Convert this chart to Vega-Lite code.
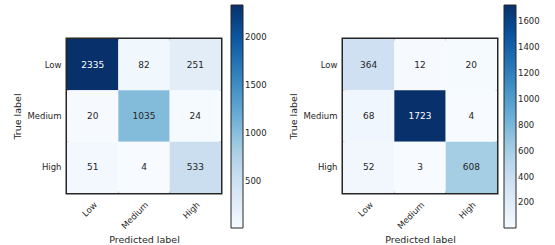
{
  "$schema": "https://vega.github.io/schema/vega-lite/v6.json",
  "padding": {"left": 10, "top": 3, "right": 5, "bottom": 4},
  "background": "white",
  "datasets": {
    "a": [
      {"true": "Low", "pred": "Low", "count": 2335},
      {"true": "Low", "pred": "Medium", "count": 82},
      {"true": "Low", "pred": "High", "count": 251},
      {"true": "Medium", "pred": "Low", "count": 20},
      {"true": "Medium", "pred": "Medium", "count": 1035},
      {"true": "Medium", "pred": "High", "count": 24},
      {"true": "High", "pred": "Low", "count": 51},
      {"true": "High", "pred": "Medium", "count": 4},
      {"true": "High", "pred": "High", "count": 533}
    ],
    "b": [
      {"true": "Low", "pred": "Low", "count": 364},
      {"true": "Low", "pred": "Medium", "count": 12},
      {"true": "Low", "pred": "High", "count": 20},
      {"true": "Medium", "pred": "Low", "count": 68},
      {"true": "Medium", "pred": "Medium", "count": 1723},
      {"true": "Medium", "pred": "High", "count": 4},
      {"true": "High", "pred": "Low", "count": 52},
      {"true": "High", "pred": "Medium", "count": 3},
      {"true": "High", "pred": "High", "count": 608}
    ]
  },
  "spacing": 17,
  "hconcat": [
    {
      "width": 154,
      "height": 154,
      "data": {"name": "a"},
      "encoding": {
        "x": {"field": "pred", "type": "nominal", "sort": ["Low", "Medium", "High"], "title": "Predicted label"},
        "y": {"field": "true", "type": "nominal", "sort": ["Low", "Medium", "High"], "title": "True label"}
      },
      "layer": [
        {
          "mark": {"type": "rect"},
          "encoding": {
            "color": {
              "field": "count", "type": "quantitative",
              "scale": {"domain": [4, 2335], "range": ["#f7fbff", "#deebf7", "#c6dbef", "#9ecae1", "#6baed6", "#4292c6", "#2171b5", "#08519c", "#08306b"], "interpolate": "rgb"},
              "legend": {"title": null, "orient": "none", "direction": "vertical", "legendX": 164, "legendY": -34, "gradientLength": 223, "gradientThickness": 12, "values": [500, 1000, 1500, 2000], "format": "d"}
            }
          }
        },
        {
          "mark": {"type": "text", "fontSize": 9, "font": "DejaVu Sans"},
          "encoding": {
            "text": {"field": "count", "type": "quantitative"},
            "color": {"condition": {"test": "datum.count > 1167.5", "value": "white"}, "value": "#262626"}
          }
        }
      ]
    },
    {
      "width": 154,
      "height": 154,
      "data": {"name": "b"},
      "encoding": {
        "x": {"field": "pred", "type": "nominal", "sort": ["Low", "Medium", "High"], "title": "Predicted label"},
        "y": {"field": "true", "type": "nominal", "sort": ["Low", "Medium", "High"], "title": "True label"}
      },
      "layer": [
        {
          "mark": {"type": "rect"},
          "encoding": {
            "color": {
              "field": "count", "type": "quantitative",
              "scale": {"domain": [3, 1723], "range": ["#f7fbff", "#deebf7", "#c6dbef", "#9ecae1", "#6baed6", "#4292c6", "#2171b5", "#08519c", "#08306b"], "interpolate": "rgb"},
              "legend": {"title": null, "orient": "none", "direction": "vertical", "legendX": 161, "legendY": -34, "gradientLength": 223, "gradientThickness": 12, "values": [200, 400, 600, 800, 1000, 1200, 1400, 1600], "format": "d"}
            }
          }
        },
        {
          "mark": {"type": "text", "fontSize": 9, "font": "DejaVu Sans"},
          "encoding": {
            "text": {"field": "count", "type": "quantitative"},
            "color": {"condition": {"test": "datum.count > 861.5", "value": "white"}, "value": "#262626"}
          }
        }
      ]
    }
  ],
  "resolve": {"scale": {"color": "independent"}},
  "config": {
    "font": "DejaVu Sans",
    "view": {"stroke": "#262626", "strokeWidth": 3},
    "axis": {"labelFont": "DejaVu Sans", "labelFontSize": 8.5, "labelColor": "#262626", "titleFont": "DejaVu Sans", "titleFontSize": 9.5, "titleFontWeight": "normal", "titleColor": "#262626", "ticks": false, "domain": false, "grid": false},
    "axisX": {"labelAngle": -45, "labelPadding": 7, "titlePadding": 4},
    "axisY": {"labelPadding": 6, "titlePadding": 5},
    "legend": {"labelFont": "DejaVu Sans", "labelFontSize": 8.5, "labelColor": "#262626", "labelOffset": 5, "gradientStrokeColor": "#262626", "gradientStrokeWidth": 1}
  }
}
